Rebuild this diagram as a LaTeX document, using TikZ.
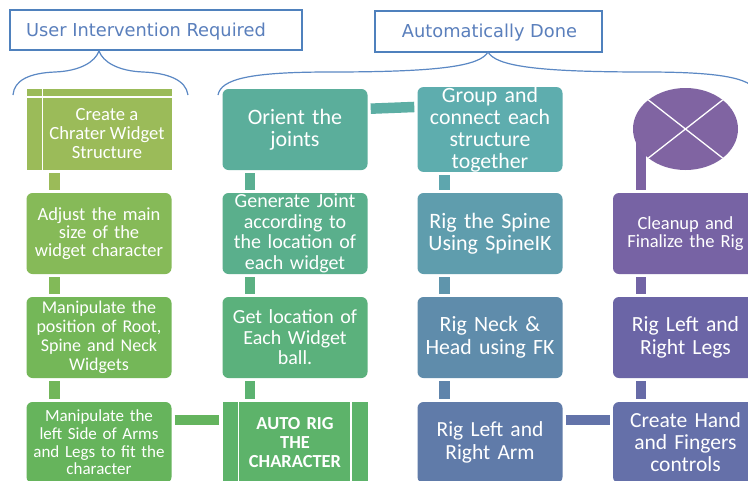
\documentclass[tikz,border=0pt]{standalone}
\usepackage{fontspec}
\setmainfont{Carlito}
\newfontfamily\headfont{DejaVu Sans}
\usetikzlibrary{shapes.geometric,backgrounds}

% box colours, green through teal and blue to purple
\definecolor{gA}{HTML}{9BBB59}
\definecolor{gB}{HTML}{86BA58}
\definecolor{gC}{HTML}{74B758}
\definecolor{gD}{HTML}{66B45C}
\definecolor{tA}{HTML}{5DB36A}
\definecolor{tB}{HTML}{5BB17C}
\definecolor{tC}{HTML}{5AAF8C}
\definecolor{tD}{HTML}{5BAE9B}
\definecolor{bA}{HTML}{5EADAE}
\definecolor{bB}{HTML}{5F9DAD}
\definecolor{bC}{HTML}{5F8CAB}
\definecolor{bD}{HTML}{607BA9}
\definecolor{pA}{HTML}{6570A9}
\definecolor{pB}{HTML}{6B65A6}
\definecolor{pC}{HTML}{7763A4}
\definecolor{pD}{HTML}{8064A2}
% connector colours
\definecolor{kA}{HTML}{9BBB59}
\definecolor{kB}{HTML}{82BA58}
\definecolor{kC}{HTML}{72B65A}
\definecolor{kD}{HTML}{64B45E}
\definecolor{kE}{HTML}{5CB271}
\definecolor{kF}{HTML}{5BB082}
\definecolor{kG}{HTML}{5AAF92}
\definecolor{kH}{HTML}{5CAEA4}
\definecolor{kI}{HTML}{5EA6AE}
\definecolor{kJ}{HTML}{5F95AC}
\definecolor{kK}{HTML}{5F84AB}
\definecolor{kL}{HTML}{6373A9}
\definecolor{kM}{HTML}{676BA7}
\definecolor{kN}{HTML}{7264A5}
\definecolor{kO}{HTML}{7D63A2}
% header colours
\definecolor{hdrline}{HTML}{4F81BD}
\definecolor{hdrtext}{HTML}{5A7FBC}
\definecolor{braceblue}{HTML}{5B88C4}

\newcommand\boxfont[2]{\fontsize{#1}{#2}\selectfont}

\begin{document}
\begin{tikzpicture}[x=1pt,y=-1pt,
  stepbox/.style={fill=#1, draw=none, rounded corners=6pt,
    minimum width=145pt, minimum height=81pt, inner sep=0pt,
    text=white, align=center, text width=145pt},
  plainbox/.style={fill=#1, draw=none,
    minimum width=145pt, minimum height=81pt, inner sep=0pt,
    text=white, align=center, text width=145pt},
  boxtext/.style={text=white, align=center, inner sep=0pt},
  link/.style={draw=#1, line width=10.5pt, shorten <=3pt, shorten >=3pt},
  header/.style={draw=hdrline, line width=2pt, inner sep=0pt},
  headtext/.style={text=hdrtext, inner sep=0pt, font=\headfont\fontsize{17.8}{21}\selectfont},
  brace/.style={draw=braceblue, line width=1.2pt},
  divider/.style={draw=white, line width=1.6pt}]

\useasboundingbox (0,0) rectangle (748,480);
\clip (0,0) rectangle (748,480);
\begin{pgfonlayer}{background}
  \fill[white] (0,0) rectangle (748,480);
\end{pgfonlayer}

% headers
\node[header, minimum width=292pt, minimum height=40pt] (user) at (156,30) {};
\node[headtext] (usertext) at (146,31.5) {User Intervention Required};
\node[header, minimum width=227pt, minimum height=41pt] (auto) at (488.5,31) {};
\node[headtext] (autotext) at (489.5,32.5) {Automatically Done};

% braces under the headers
\coordinate (utip) at (99,51);
\coordinate (atip) at (488,52);
\draw[brace] (13,95) .. controls (14,80) and (30,73) .. (55,72)
  .. controls (80,71) and (95,62) .. (utip)
  .. controls (103,62) and (118,71) .. (143,72)
  .. controls (168,73) and (186,80) .. (188,95);
\draw[brace] (218,95) .. controls (221,79) and (250,72) .. (330,72)
  .. controls (440,72) and (480,66) .. (atip)
  .. controls (496,66) and (536,72) .. (646,72)
  .. controls (726,72) and (755,79) .. (758,95);

% column 1: user steps
\node[plainbox=gA] (c1r1) at (99,129.5) {};
\draw[divider] ([xshift=16pt]c1r1.north west) -- ([xshift=16pt]c1r1.south west);
\draw[divider] ([yshift=-8pt]c1r1.north west) -- ([yshift=-8pt]c1r1.north east);
\node[boxtext, font=\boxfont{18.6}{19}] (t11) at (107,134) {Create a\\Chrater Widget\\Structure};
\node[stepbox=gB, font=\boxfont{18.5}{18}] (c1r2) at (99,233.5) {Adjust the main\\size of the\\widget character};
\node[stepbox=gC, font=\boxfont{18}{19}] (c1r3) at (99,337.5) {Manipulate the\\position of Root,\\Spine and Neck\\Widgets};
\node[stepbox=gD, font=\boxfont{17}{17.7}] (c1r4) at (99,442.5) {Manipulate the\\left Side of Arms\\and Legs to fit the\\character};

% column 2
\node[stepbox=tD, font=\boxfont{22}{22.5}] (c2r1) at (295,129.5) {Orient the\\joints};
\node[stepbox=tC, font=\boxfont{20}{20.5}] (c2r2) at (295,233.5) {Generate Joint\\according to\\the location of\\each widget};
\node[stepbox=tB, font=\boxfont{20}{20.5}] (c2r3) at (295,337.5) {Get location of\\Each Widget\\ball.};
\node[plainbox=tA, font=\bfseries\boxfont{18.4}{18.7}] (c2r4) at (295,442.5) {AUTO RIG\\THE\\CHARACTER};
\draw[divider] ([xshift=16pt]c2r4.north west) -- ([xshift=16pt]c2r4.south west);
\draw[divider] ([xshift=-17pt]c2r4.north east) -- ([xshift=-17pt]c2r4.south east);

% column 3
\node[stepbox=bA, font=\boxfont{21.8}{22}] (c3r1) at (490,129.5) {Group and\\connect each\\structure\\together};
\node[stepbox=bB, font=\boxfont{22}{22}] (c3r2) at (490,233.5) {Rig the Spine\\Using SpineIK};
\node[stepbox=bC, font=\boxfont{21.8}{23}] (c3r3) at (490,337.5) {Rig Neck \&\\Head using FK};
\node[stepbox=bD, font=\boxfont{21.5}{22.5}] (c3r4) at (490,442.5) {Rig Left and\\Right Arm};

% column 4
\node[stepbox=pC, font=\boxfont{18.5}{18.5}] (c4r2) at (685.5,233.5) {Cleanup and\\Finalize the Rig};
\node[stepbox=pB, font=\boxfont{21.6}{23}] (c4r3) at (685.5,337.5) {Rig Left and\\Right Legs};
\node[stepbox=pA, font=\boxfont{21.5}{22}] (c4r4) at (685.5,442.5) {Create Hand\\and Fingers\\controls};

% end mark
\node[ellipse, fill=pD, minimum width=105pt, minimum height=82pt, inner sep=0pt] (done) at (685.5,129) {};
\path (done.center) +(45:52.5 and 41) coordinate (q1) +(225:52.5 and 41) coordinate (q3)
  +(135:52.5 and 41) coordinate (q2) +(315:52.5 and 41) coordinate (q4);
\draw[divider, line width=1.3pt] (q1) -- (q3) (q2) -- (q4);

% connectors
\draw[link=kA] ([xshift=28pt]c1r1.south west) -- ([xshift=28pt]c1r2.north west);
\draw[link=kB] ([xshift=28pt]c1r2.south west) -- ([xshift=28pt]c1r3.north west);
\draw[link=kC] ([xshift=28pt]c1r3.south west) -- ([xshift=28pt]c1r4.north west);
\draw[link=kD] ([yshift=-18pt]c1r4.north east) -- ([yshift=-18pt]c2r4.north west);
\draw[link=kE] ([xshift=27.5pt]c2r4.north west) -- ([xshift=27.5pt]c2r3.south west);
\draw[link=kF] ([xshift=27.5pt]c2r3.north west) -- ([xshift=27.5pt]c2r2.south west);
\draw[link=kG] ([xshift=27.5pt]c2r2.north west) -- ([xshift=27.5pt]c2r1.south west);
\draw[link=kH] ([yshift=-20pt]c2r1.north east) -- ([yshift=-20pt]c3r1.north west);
\draw[link=kI] ([xshift=27pt]c3r1.south west) -- ([xshift=27pt]c3r2.north west);
\draw[link=kJ] ([xshift=27pt]c3r2.south west) -- ([xshift=27pt]c3r3.north west);
\draw[link=kK] ([xshift=27pt]c3r3.south west) -- ([xshift=27pt]c3r4.north west);
\draw[link=kL] ([yshift=-18pt]c3r4.north east) -- ([yshift=-18pt]c4r4.north west);
\draw[link=kM] ([xshift=28pt]c4r4.north west) -- ([xshift=28pt]c4r3.south west);
\draw[link=kN] ([xshift=28pt]c4r3.north west) -- ([xshift=28pt]c4r2.south west);
\begin{pgfonlayer}{background}
  \draw[link=kO, shorten >=0pt] ([xshift=28pt]c4r2.north west) -- ([xshift=28pt]c4r2.north west |- done.center);
\end{pgfonlayer}
\end{tikzpicture}
\end{document}
